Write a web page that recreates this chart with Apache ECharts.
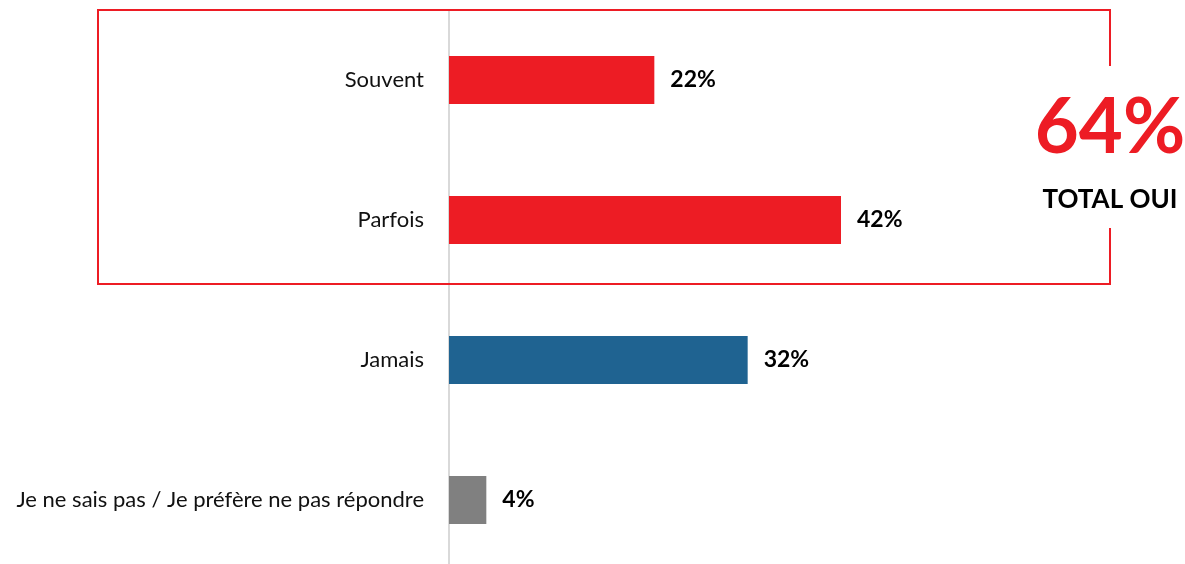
<!DOCTYPE html>
<html>
<head>
<meta charset="utf-8">
<script src="https://cdn.jsdelivr.net/npm/echarts@6/dist/echarts.min.js"></script>
<style>
  html, body { margin: 0; padding: 0; background: #fff; overflow: hidden; }
  #chart { width: 1185px; height: 572px; }
</style>
</head>
<body>
<div id="chart"></div>
<script>
// data
const categories = ['Souvent', 'Parfois', 'Jamais', 'Je ne sais pas / Je préfère ne pas répondre'];
const values = [22, 42, 32, 4];
const barColors = ['#ED1C24', '#ED1C24', '#1F6391', '#808080'];
const totalLabel = '64%';
const totalText = 'TOTAL OUI';

const red = '#ED1C24';
const font = 'Lato, "Open Sans", sans-serif';

let myChart = echarts.init(document.getElementById('chart'));
let option = {
  animation: false,
  backgroundColor: '#fff',
  grid: { left: 449, top: 10, width: 560, height: 560 },
  xAxis: {
    type: 'value',
    min: 0,
    max: 60,
    show: false
  },
  yAxis: {
    type: 'category',
    inverse: true,
    data: categories,
    axisTick: { show: false },
    axisLine: { show: true, lineStyle: { color: '#D9D9D9', width: 2 } },
    axisLabel: {
      color: '#111',
      fontSize: 22,
      fontFamily: font,
      margin: 25
    }
  },
  series: [{
    type: 'bar',
    barWidth: 48,
    data: values.map((v, i) => ({ value: v, itemStyle: { color: barColors[i] } })),
    label: {
      show: true,
      position: 'right',
      distance: 16,
      formatter: '{c}%',
      color: '#000',
      fontSize: 23,
      fontWeight: 'bold',
      fontFamily: font
    }
  }],
  graphic: [
    {
      type: 'polyline',
      shape: { points: [[1110, 66], [1110, 10], [98, 10], [98, 284], [1110, 284], [1110, 228]] },
      style: { stroke: red, lineWidth: 2, fill: null },
      z: 10
    },
    {
      type: 'text',
      x: 1110, y: 128,
      style: {
        text: totalLabel,
        fill: red,
        font: 'bold 76px ' + font,
        align: 'center',
        verticalAlign: 'middle'
      }
    },
    {
      type: 'text',
      x: 1110, y: 200,
      style: {
        text: totalText,
        fill: '#000',
        font: 'bold 26px ' + font,
        align: 'center',
        verticalAlign: 'middle'
      }
    }
  ]
};
myChart.setOption(option);
</script>
</body>
</html>
